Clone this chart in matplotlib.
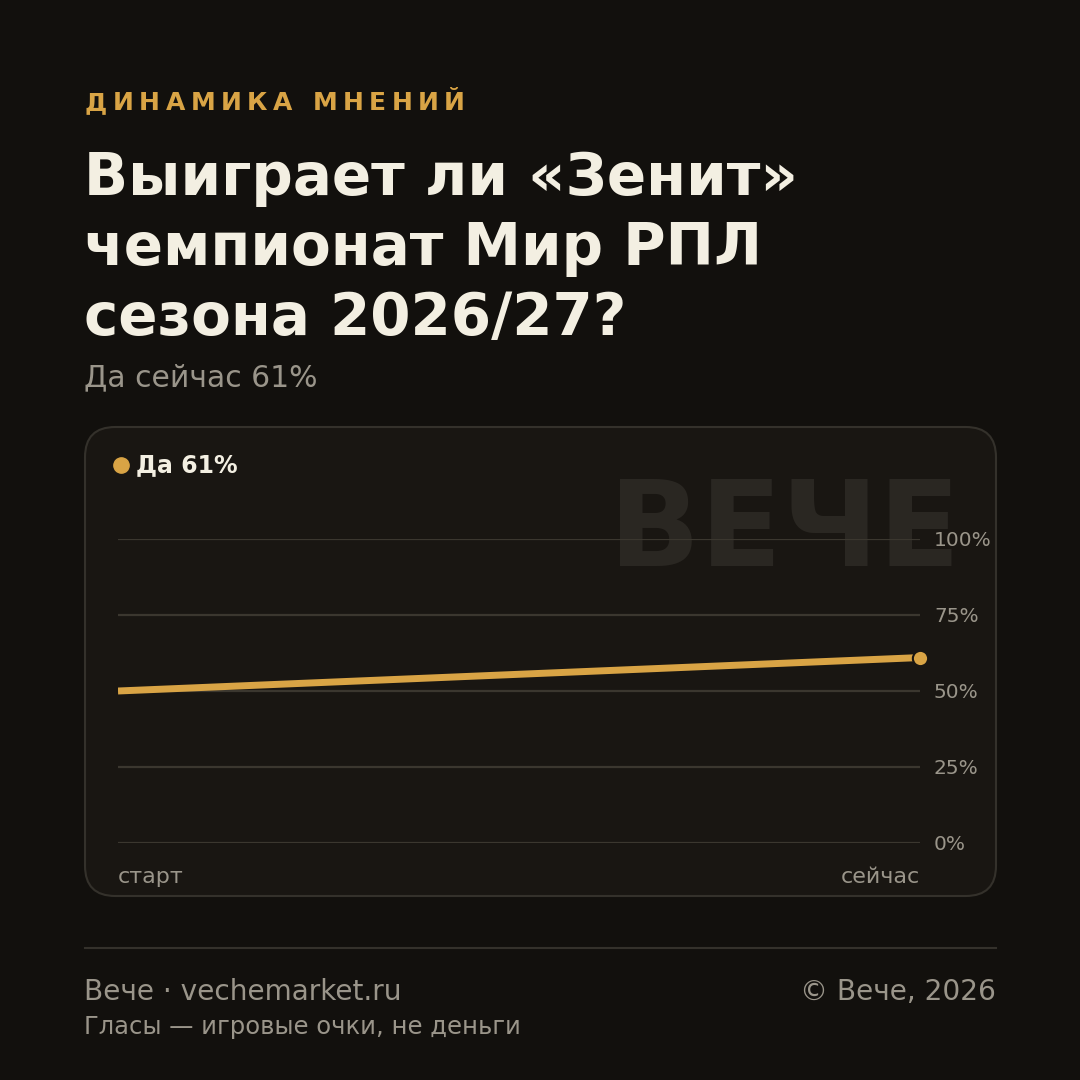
import matplotlib
matplotlib.use("Agg")
import matplotlib.pyplot as plt
from matplotlib.patches import FancyBboxPatch
from matplotlib.lines import Line2D

# --- data ---
stages = ["старт", "сейчас"]
yes_share = [50, 61]
y_ticks = [0, 25, 50, 75, 100]
y_tick_labels = ["0%", "25%", "50%", "75%", "100%"]

kicker = "ДИНАМИКА МНЕНИЙ"
title_lines = ["Выиграет ли «Зенит»", "чемпионат Мир РПЛ", "сезона 2026/27?"]
subtitle = "Да сейчас 61%"
legend_label = "Да 61%"
footer_left = "Вече · vechemarket.ru"
footer_right = "© Вече, 2026"
footer_note = "Гласы — игровые очки, не деньги"

BG = "#12100d"
CARD = "#191612"
EDGE = "#34312b"
GOLD = "#d9a445"
WHITE = "#f3efe2"
GRAY = "#9a958a"
GRID = "#3b372f"

W = H = 1080
fig = plt.figure(figsize=(10.8, 10.8), dpi=100, facecolor=BG)

def fx(px):
    return px / W

def fy(py):
    return 1 - py / H

# card (behind the axes)
card = FancyBboxPatch((fx(85), fy(896)), fx(996) - fx(85), fy(427) - fy(896),
                      boxstyle="round,pad=0,rounding_size=0.028",
                      transform=fig.transFigure, facecolor=CARD, edgecolor=EDGE,
                      linewidth=1.5, zorder=-2)
fig.patches.append(card)

# kicker with letter spacing
renderer = fig.canvas.get_renderer()
x = 85
for ch in kicker:
    t = fig.text(fx(x), fy(110), ch, fontsize=18, fontweight="bold", color=GOLD,
                 va="baseline", ha="left")
    if ch == " ":
        w = 9
    else:
        w = t.get_window_extent(renderer).width
    x += w + 5.5

# title
for i, line in enumerate(title_lines):
    fig.text(fx(84), fy(195 + 70 * i), line, fontsize=41.7, fontweight="bold",
             color=WHITE, va="baseline", ha="left")

fig.text(fx(84), fy(386), subtitle, fontsize=21.5, color=GRAY, va="baseline", ha="left")

# watermark
fig.text(fx(960), fy(566), "ВЕЧЕ", fontsize=86, fontweight="bold", color="#2a2722",
         va="baseline", ha="right", zorder=-1)

# legend
fig.add_artist(Line2D([fx(121)], [fy(465)], marker="o", markersize=11,
                      color=GOLD, transform=fig.transFigure))
fig.text(fx(136), fy(465), legend_label, fontsize=17, fontweight="bold",
         color=WHITE, va="center", ha="left")

# chart
ax = fig.add_axes([fx(118), fy(843), fx(920) - fx(118), fy(539) - fy(843)])
ax.set_facecolor("none")
xs = list(range(len(stages)))
ax.plot(xs, yes_share, color=GOLD, linewidth=5, solid_capstyle="butt", zorder=3)
ax.plot(xs[-1:], yes_share[-1:], "o", color=GOLD, markersize=11,
        markeredgecolor=CARD, markeredgewidth=1.5, zorder=4, clip_on=False)
ax.set_xlim(0, 1)
ax.set_ylim(0, 100)
for sp in ax.spines.values():
    sp.set_visible(False)
ax.set_yticks(y_ticks)
ax.set_yticklabels(y_tick_labels)
ax.yaxis.tick_right()
ax.grid(axis="y", color=GRID, linewidth=1.6)
ax.set_axisbelow(True)
ax.tick_params(axis="y", length=0, pad=10, labelsize=14.5, labelcolor=GRAY)
ax.set_xticks(xs)
ax.set_xticklabels(stages)
ax.tick_params(axis="x", length=0, pad=17, labelsize=16, labelcolor=GRAY)
labels = ax.get_xticklabels()
labels[0].set_ha("left")
labels[-1].set_ha("right")

# footer
fig.add_artist(Line2D([fx(85), fx(996)], [fy(948), fy(948)], color=EDGE,
                      linewidth=1.5, transform=fig.transFigure))
fig.text(fx(84), fy(1000), footer_left, fontsize=20.2, color=GRAY, va="baseline", ha="left")
fig.text(fx(996), fy(1000), footer_right, fontsize=20.2, color=GRAY, va="baseline", ha="right")
fig.text(fx(84), fy(1034), footer_note, fontsize=17.5, color=GRAY, va="baseline", ha="left")

fig.savefig("out.png", dpi=100, facecolor=BG)
